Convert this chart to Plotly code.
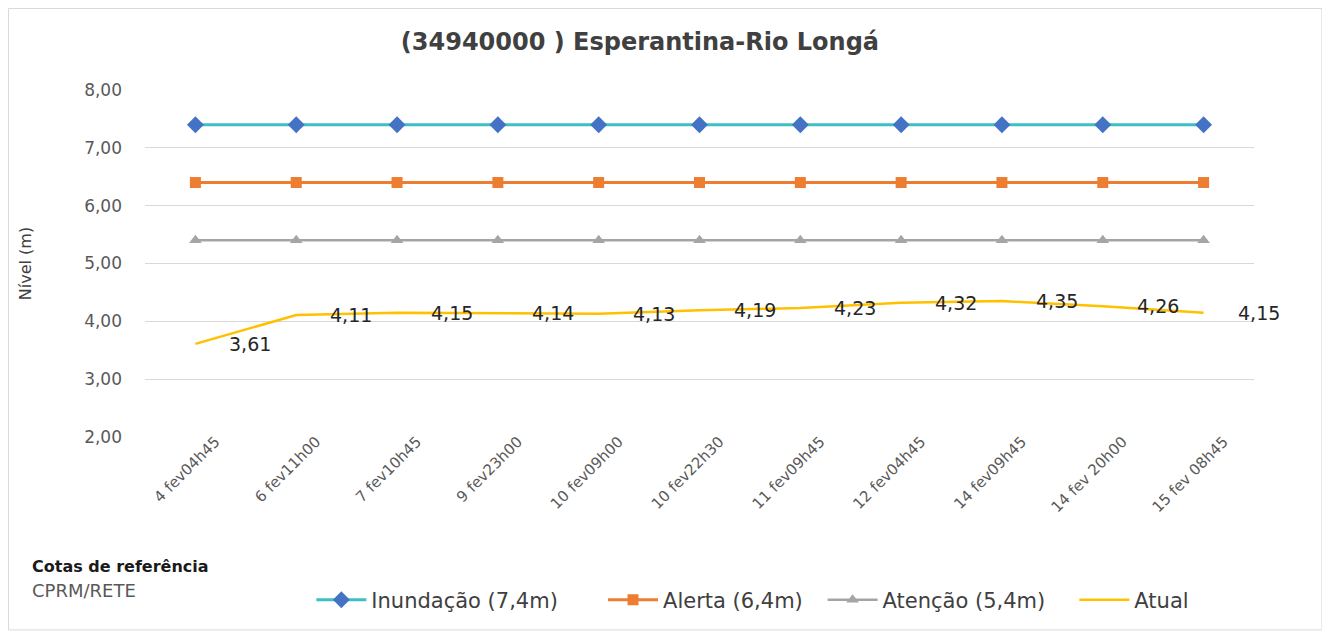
import plotly.graph_objects as go

categories = ["4 fev04h45", "6 fev11h00", "7 fev10h45", "9 fev23h00", "10 fev09h00",
              "10 fev22h30", "11 fev09h45", "12 fev04h45", "14 fev09h45", "14 fev 20h00",
              "15 fev 08h45"]
inundacao = [7.4] * 11
alerta = [6.4] * 11
atencao = [5.4] * 11
atual = [3.61, 4.11, 4.15, 4.14, 4.13, 4.19, 4.23, 4.32, 4.35, 4.26, 4.15]
y_ticks = [2, 3, 4, 5, 6, 7, 8]

FONT = "DejaVu Sans"
fig = go.Figure()
fig.add_trace(go.Scatter(x=categories, y=inundacao, name="Inundação (7,4m)", mode="lines+markers",
                         line=dict(color="#3DBFC4", width=3), legend="legend",
                         marker=dict(symbol="diamond", size=13, color="#4472C4")))
fig.add_trace(go.Scatter(x=categories, y=alerta, name="Alerta (6,4m)", mode="lines+markers",
                         line=dict(color="#ED7D31", width=3), legend="legend2",
                         marker=dict(symbol="square", size=11, color="#ED7D31")))
fig.add_trace(go.Scatter(x=categories, y=atencao, name="Atenção (5,4m)", mode="lines+markers",
                         line=dict(color="#A5A5A5", width=2.5), legend="legend3",
                         marker=dict(symbol="triangle-up", size=11, color="#A5A5A5")))
fig.add_trace(go.Scatter(x=categories, y=atual, name="Atual", mode="lines", legend="legend4",
                         line=dict(color="#FFC000", width=2.5)))

annotations = []
for c, v in zip(categories, atual):
    annotations.append(dict(x=c, y=v, xref="x", yref="y", text=f"{v:.2f}".replace(".", ","),
                            showarrow=False, xanchor="left", yanchor="middle", xshift=32,
                            font=dict(family=FONT, size=19, color="#262626")))

annotations.append(dict(x=-0.1037, y=-0.3746, xref="paper", yref="paper", xanchor="left", yanchor="middle",
                        text="<b>Cotas de referência</b>", showarrow=False,
                        font=dict(family=FONT, size=16, color="#1A1A1A")))
annotations.append(dict(x=-0.1037, y=-0.441, xref="paper", yref="paper", xanchor="left", yanchor="middle",
                        text="CPRM/RETE", showarrow=False,
                        font=dict(family=FONT, size=18, color="#595959")))


def leg(x):
    return dict(orientation="h", x=x, xanchor="left", y=-0.47, yanchor="middle",
                font=dict(family=FONT, size=21, color="#404040"), bgcolor="rgba(0,0,0,0)",
                itemwidth=50)


fig.update_layout(
    width=1330, height=635,
    margin=dict(l=137, r=84, t=82, b=206),
    paper_bgcolor="white", plot_bgcolor="white",
    separators=",.",
    font=dict(family=FONT, color="#595959"),
    title=dict(text="<b>(34940000 ) Esperantina-Rio Longá</b>", x=0.4463, xref="paper", xanchor="center",
               y=1 - 34 / 635, yanchor="middle", font=dict(family=FONT, size=24, color="#404040")),
    xaxis=dict(type="category", range=[-0.5, 10.5], showgrid=False, showline=False, ticks="",
               tickangle=-45, ticklabelshift=20, ticklabelstandoff=-8,
               tickfont=dict(family=FONT, size=15, color="#595959")),
    yaxis=dict(range=[2, 8], tickvals=y_ticks, tickformat=".2f", showgrid=True, gridcolor="#D9D9D9",
               gridwidth=1, zeroline=False, showline=False, ticks="", ticklabelstandoff=22,
               tickfont=dict(family=FONT, size=17, color="#595959"),
               title=dict(text="Nível (m)", standoff=48, font=dict(family=FONT, size=16, color="#404040"))),
    legend=leg(0.150),
    legend2=leg(0.413),
    legend3=leg(0.611),
    legend4=leg(0.838),
    annotations=annotations,
    shapes=[dict(type="rect", xref="paper", yref="paper", x0=-0.1231, x1=1.0613, y0=-0.556, y1=1.2349,
                 line=dict(color="#D9D9D9", width=1), layer="below")],
    showlegend=True,
)
fig.write_html("out.html")
